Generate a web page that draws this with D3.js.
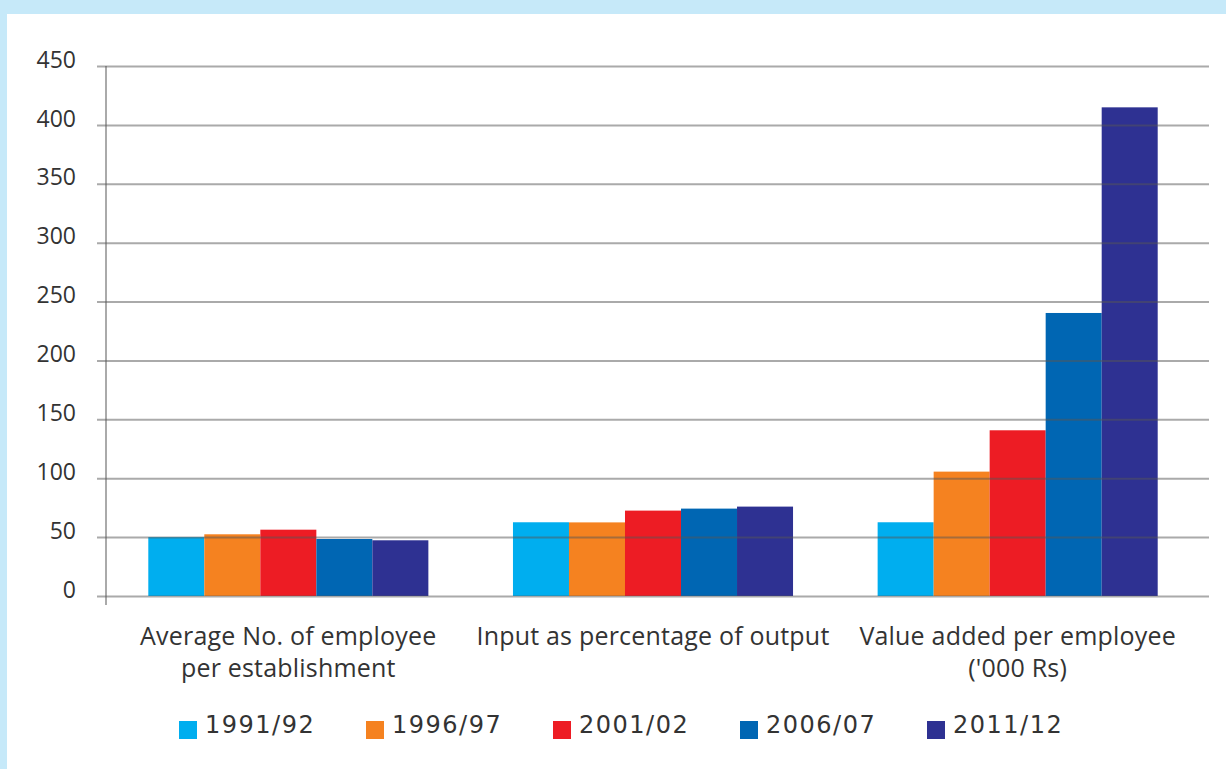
<!DOCTYPE html>
<html>
<head>
<meta charset="utf-8">
<script src="https://cdn.jsdelivr.net/npm/d3@7"></script>
<style>
  body { margin: 0; background: #c6e9f9; }
  svg { display: block; }
</style>
</head>
<body>
<div id="chart"></div>
<script>
// Data
const categories = ["Average No. of employee|per establishment", "Input as percentage of output", "Value added per employee|('000 Rs)"];
const series = ["1991/92", "1996/97", "2001/02", "2006/07", "2011/12"];
const values = {
  "1991/92": [50, 62.6, 62.6],
  "1996/97": [52.4, 62.5, 105.6],
  "2001/02": [56.3, 72.5, 140.7],
  "2006/07": [48.4, 74.2, 240.3],
  "2011/12": [47.3, 75.9, 414.9]
};
const yTicks = [0, 50, 100, 150, 200, 250, 300, 350, 400, 450];
const colors = ["#00aeef", "#f58220", "#ed1c24", "#0066b3", "#2e3192"];

const W = 1226, H = 769;
const margin = {top: 66, right: 26, bottom: 173, left: 106},
      width = W - margin.left - margin.right,
      height = H - margin.top - margin.bottom;

const svg = d3.select("#chart").append("svg")
    .attr("width", W)
    .attr("height", H);

// white panel on the light blue page
svg.append("rect").attr("x", 7).attr("y", 14).attr("width", W - 7).attr("height", H - 14).attr("fill", "#fff");

const g = svg.append("g").attr("transform", `translate(${margin.left},${margin.top})`);

const x0 = d3.scaleBand().domain(categories).range([0, width]);
const x1 = d3.scaleBand().domain(series).range([0, x0.bandwidth() * 0.768]);
const y = d3.scaleLinear().domain([0, 450]).range([height, 0]);
const color = d3.scaleOrdinal().domain(series).range(colors);

// bars
const groups = g.selectAll("g.grp")
  .data(categories)
  .join("g")
    .attr("class", "grp")
    .attr("transform", d => `translate(${x0(d) + (x0.bandwidth() - x1.range()[1]) / 2},0)`);

groups.selectAll("rect")
  .data((d, i) => series.map(s => ({s, v: values[s][i]})))
  .join("rect")
    .attr("x", d => x1(d.s))
    .attr("y", d => y(d.v))
    .attr("width", x1.bandwidth())
    .attr("height", d => height - y(d.v))
    .attr("fill", d => color(d.s));

// gridlines drawn over the bars
const yAxis = d3.axisLeft(y).tickValues(yTicks).tickSize(-(width + 18)).tickPadding(21);
const ya = g.append("g").attr("transform", "translate(-9,0)").call(yAxis);
ya.select(".domain").remove();
ya.selectAll(".tick line").attr("stroke", "#555").attr("stroke-opacity", 0.5).attr("stroke-width", 2);
ya.selectAll(".tick text")
  .attr("font-family", "Open Sans")
  .attr("font-size", 23)
  .attr("fill", "#333")
  .attr("dy", "0.05em");

// vertical axis line
g.append("line")
  .attr("x1", 0).attr("x2", 0)
  .attr("y1", 0).attr("y2", height + 9)
  .attr("stroke", "#555").attr("stroke-opacity", 0.5).attr("stroke-width", 2);

// category labels
const labels = g.selectAll("text.cat")
  .data(categories)
  .join("text")
    .attr("class", "cat")
    .attr("text-anchor", "middle")
    .attr("font-family", "Open Sans")
    .attr("font-size", 25)
    .attr("letter-spacing", 0.2)
    .attr("fill", "#333")
    .attr("x", d => x0(d) + x0.bandwidth() / 2)
    .attr("y", height + 49);
labels.selectAll("tspan")
  .data(d => d.split("|"))
  .join("tspan")
    .attr("x", function() { return d3.select(this.parentNode).attr("x"); })
    .attr("dy", (d, i) => i === 0 ? 0 : 32)
    .text(d => d);

// legend
const legend = svg.append("g").attr("transform", "translate(179,721)");
const item = legend.selectAll("g")
  .data(series)
  .join("g")
    .attr("transform", (d, i) => `translate(${i * 187},0)`);
item.append("rect")
  .attr("width", 18).attr("height", 18)
  .attr("fill", d => color(d));
item.append("text")
  .attr("x", 26).attr("y", 12)
  .attr("font-family", "DejaVu Sans")
  .attr("font-size", 24)
  .attr("letter-spacing", 1.5)
  .attr("fill", "#333")
  .text(d => d);
</script>
</body>
</html>
